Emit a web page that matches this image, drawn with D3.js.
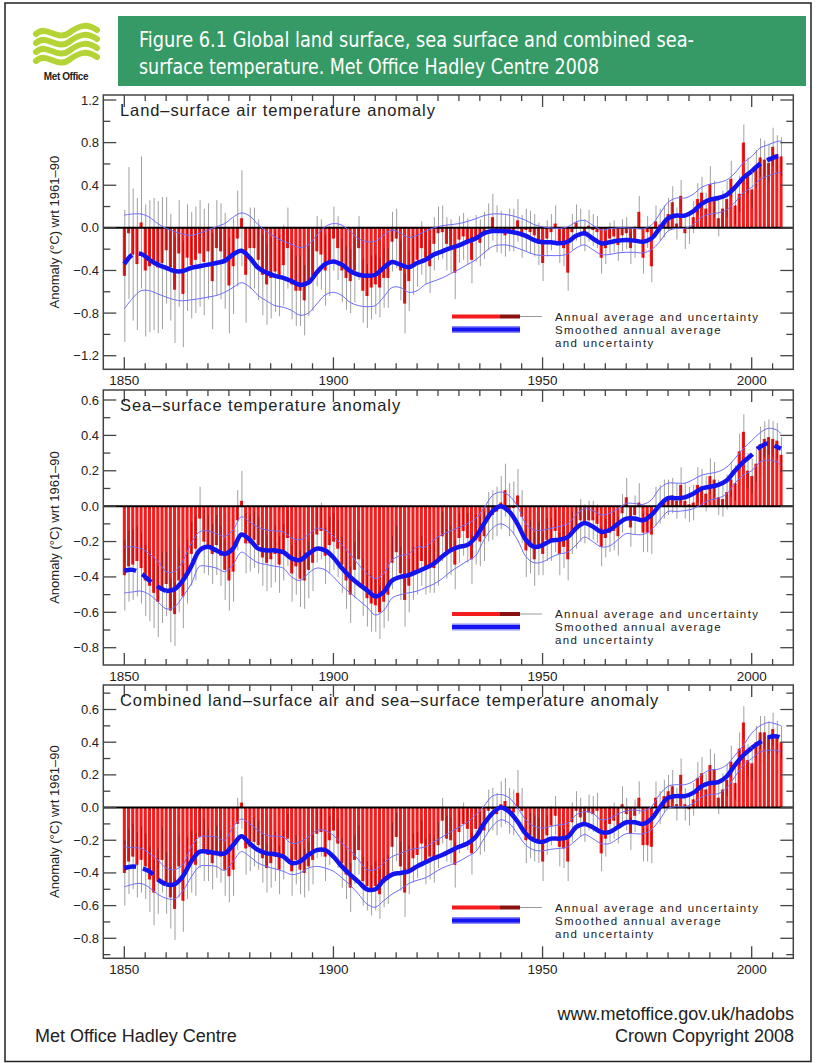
<!DOCTYPE html>
<html>
<head>
<meta charset="utf-8">
<script src="https://d3js.org/d3.v7.min.js"></script>
<style>
  body { margin: 0; background: #fff; }
  svg text { font-family: "Liberation Sans", Arial, Helvetica, sans-serif; }
</style>
</head>
<body>
<svg id="chart" width="818" height="1063"></svg>
<script>
// ---- data ----
var years = d3.range(1850, 2008);
var smoothYears = d3.range(1850, 2007, 2).concat([2007]);

var landAnnual = [
  -0.45,-0.05,-0.25,-0.34,0.05,-0.40,-0.36,-0.34,-0.37,-0.33,
  -0.21,-0.37,-0.58,-0.24,-0.62,-0.28,-0.35,-0.30,-0.24,-0.32,
  -0.22,-0.50,-0.19,-0.22,-0.31,-0.54,-0.36,-0.10,0.09,-0.44,
  -0.19,-0.19,-0.30,-0.44,-0.53,-0.47,-0.41,-0.45,-0.35,-0.19,
  -0.53,-0.59,-0.59,-0.68,-0.50,-0.45,-0.22,-0.25,-0.40,-0.31,
  -0.10,-0.19,-0.40,-0.47,-0.50,-0.40,-0.19,-0.59,-0.64,-0.56,
  -0.53,-0.56,-0.47,-0.47,-0.13,-0.10,-0.40,-0.71,-0.50,-0.35,
  -0.30,-0.19,-0.28,-0.36,-0.15,-0.05,-0.04,-0.15,-0.17,-0.42,
  -0.11,-0.08,-0.13,-0.30,-0.10,-0.14,-0.07,0.01,0.10,-0.01,
  -0.04,-0.07,-0.02,-0.02,0.07,-0.08,-0.02,-0.04,-0.07,-0.15,
  -0.33,-0.10,-0.04,0.04,-0.16,-0.19,-0.42,-0.04,0.05,0.01,
  -0.07,0.02,-0.02,-0.04,-0.28,-0.19,-0.10,-0.08,-0.16,-0.07,
  -0.05,-0.19,-0.13,0.15,-0.28,-0.04,-0.36,0.06,0.03,0.06,
  0.13,0.24,0.04,0.30,-0.05,0.00,0.10,0.27,0.33,0.18,
  0.41,0.27,0.09,0.18,0.27,0.46,0.21,0.32,0.80,0.49,
  0.36,0.55,0.66,0.64,0.61,0.76,0.69,0.67
];
var seaAnnual = [
  -0.39,-0.34,-0.33,-0.31,-0.35,-0.42,-0.45,-0.49,-0.54,-0.46,
  -0.44,-0.59,-0.61,-0.42,-0.51,-0.37,-0.27,-0.24,-0.07,-0.20,
  -0.22,-0.27,-0.22,-0.28,-0.36,-0.42,-0.37,-0.08,0.03,-0.21,
  -0.21,-0.19,-0.22,-0.29,-0.32,-0.30,-0.27,-0.33,-0.26,-0.18,
  -0.38,-0.34,-0.41,-0.42,-0.36,-0.32,-0.16,-0.14,-0.28,-0.22,
  -0.20,-0.24,-0.33,-0.42,-0.50,-0.36,-0.30,-0.46,-0.52,-0.55,
  -0.56,-0.60,-0.54,-0.50,-0.32,-0.26,-0.38,-0.53,-0.45,-0.38,
  -0.36,-0.31,-0.36,-0.35,-0.35,-0.31,-0.17,-0.27,-0.25,-0.33,
  -0.18,-0.14,-0.18,-0.30,-0.19,-0.20,-0.17,-0.06,-0.05,-0.03,
  0.02,0.09,-0.02,-0.01,0.06,-0.06,-0.25,-0.23,-0.30,-0.24,
  -0.27,-0.19,-0.19,-0.14,-0.27,-0.23,-0.30,-0.15,-0.12,-0.08,
  -0.10,-0.08,-0.08,-0.10,-0.23,-0.18,-0.15,-0.14,-0.17,-0.04,
  0.05,-0.12,-0.05,0.02,-0.15,-0.15,-0.16,0.00,0.01,0.04,
  0.05,0.06,0.03,0.12,0.03,0.01,0.02,0.12,0.11,0.07,
  0.17,0.15,0.05,0.04,0.08,0.15,0.13,0.31,0.42,0.20,
  0.17,0.24,0.35,0.38,0.39,0.38,0.37,0.29
];
var combAnnual = [
  -0.40,-0.33,-0.30,-0.35,-0.32,-0.36,-0.44,-0.52,-0.45,-0.32,
  -0.46,-0.55,-0.62,-0.36,-0.57,-0.37,-0.33,-0.35,-0.18,-0.26,
  -0.29,-0.34,-0.27,-0.30,-0.38,-0.42,-0.38,-0.10,0.03,-0.25,
  -0.24,-0.21,-0.23,-0.31,-0.37,-0.34,-0.30,-0.38,-0.29,-0.19,
  -0.39,-0.32,-0.38,-0.40,-0.36,-0.32,-0.16,-0.15,-0.30,-0.20,
  -0.14,-0.22,-0.34,-0.41,-0.49,-0.32,-0.26,-0.45,-0.48,-0.51,
  -0.48,-0.53,-0.46,-0.44,-0.24,-0.18,-0.36,-0.52,-0.38,-0.31,
  -0.29,-0.22,-0.33,-0.30,-0.32,-0.23,-0.08,-0.19,-0.20,-0.35,
  -0.15,-0.10,-0.13,-0.28,-0.13,-0.16,-0.14,-0.02,-0.01,-0.04,
  0.02,0.04,-0.02,-0.03,0.09,-0.02,-0.20,-0.17,-0.19,-0.20,
  -0.33,-0.17,-0.11,-0.05,-0.24,-0.25,-0.33,-0.09,-0.02,-0.06,
  -0.10,-0.03,-0.04,-0.02,-0.28,-0.19,-0.10,-0.08,-0.11,0.02,
  -0.04,-0.16,-0.05,0.06,-0.23,-0.23,-0.24,0.06,0.00,0.07,
  0.10,0.13,0.02,0.20,0.02,-0.01,0.05,0.18,0.21,0.11,
  0.26,0.23,0.06,0.11,0.17,0.28,0.15,0.36,0.52,0.29,
  0.27,0.40,0.46,0.46,0.43,0.48,0.43,0.40
];

// uncertainty half-width of the annual values, one per decade (1850s ... 2000s)
var landErr = [0.62,0.50,0.45,0.38,0.33,0.30,0.28,0.25,0.22,0.20,0.17,0.15,0.15,0.15,0.17,0.18];
var seaErr  = [0.20,0.18,0.17,0.16,0.16,0.16,0.15,0.14,0.14,0.15,0.12,0.11,0.11,0.10,0.10,0.10];
var combErr = [0.20,0.19,0.16,0.15,0.15,0.15,0.15,0.14,0.13,0.14,0.12,0.11,0.10,0.10,0.10,0.10];

// smoothed curves and their uncertainty, at smoothYears
var landSmooth = [
  -0.34,-0.25,-0.245,-0.30,-0.345,-0.375,-0.405,-0.405,-0.375,-0.36,
  -0.345,-0.33,-0.31,-0.25,-0.215,-0.28,-0.375,-0.42,-0.45,-0.47,
  -0.50,-0.535,-0.515,-0.42,-0.34,-0.315,-0.345,-0.405,-0.44,-0.45,
  -0.44,-0.375,-0.32,-0.345,-0.37,-0.33,-0.30,-0.25,-0.22,-0.19,
  -0.165,-0.13,-0.10,-0.05,-0.03,-0.03,-0.035,-0.05,-0.075,-0.115,
  -0.135,-0.135,-0.145,-0.13,-0.075,-0.05,-0.10,-0.145,-0.135,-0.12,
  -0.115,-0.12,-0.13,-0.10,-0.005,0.09,0.115,0.115,0.155,0.225,
  0.265,0.28,0.31,0.38,0.47,0.53,0.60,0.64,0.67,0.675
];
var landUpper = [
  0.12,0.13,0.13,0.10,0.04,-0.005,-0.035,-0.06,-0.07,-0.05,
  -0.02,0.01,0.04,0.10,0.14,0.11,0.03,-0.035,-0.085,-0.125,
  -0.155,-0.185,-0.16,-0.07,0.01,0.04,0.025,-0.035,-0.10,-0.13,
  -0.125,-0.07,-0.02,-0.05,-0.09,-0.07,-0.03,0.0,0.02,0.03,
  0.04,0.06,0.085,0.115,0.13,0.13,0.12,0.10,0.07,0.03,
  0.01,0.0,-0.005,0.01,0.055,0.07,0.025,-0.02,-0.01,0.0,
  0.0,-0.005,-0.01,0.025,0.13,0.24,0.28,0.28,0.315,0.38,
  0.41,0.425,0.45,0.515,0.61,0.67,0.75,0.78,0.81,0.815
];
var landLower = [
  -0.76,-0.66,-0.59,-0.59,-0.62,-0.65,-0.675,-0.685,-0.675,-0.665,
  -0.65,-0.635,-0.605,-0.56,-0.515,-0.555,-0.635,-0.685,-0.73,-0.745,
  -0.775,-0.82,-0.80,-0.715,-0.63,-0.605,-0.635,-0.70,-0.73,-0.74,
  -0.73,-0.65,-0.56,-0.56,-0.605,-0.59,-0.53,-0.50,-0.47,-0.43,
  -0.39,-0.345,-0.30,-0.235,-0.175,-0.16,-0.165,-0.19,-0.22,-0.25,
  -0.26,-0.26,-0.26,-0.245,-0.19,-0.16,-0.205,-0.25,-0.25,-0.235,
  -0.23,-0.23,-0.235,-0.205,-0.13,-0.03,-0.005,-0.005,0.03,0.10,
  0.13,0.14,0.17,0.24,0.33,0.38,0.455,0.49,0.515,0.52
];
var seaSmooth = [
  -0.365,-0.36,-0.38,-0.42,-0.455,-0.48,-0.47,-0.42,-0.34,-0.25,
  -0.23,-0.25,-0.27,-0.24,-0.16,-0.19,-0.24,-0.25,-0.25,-0.26,
  -0.295,-0.305,-0.27,-0.24,-0.25,-0.29,-0.35,-0.40,-0.44,-0.475,
  -0.51,-0.485,-0.42,-0.40,-0.39,-0.37,-0.35,-0.325,-0.285,-0.25,
  -0.23,-0.22,-0.175,-0.10,-0.03,0.0,-0.03,-0.10,-0.19,-0.23,
  -0.22,-0.195,-0.19,-0.175,-0.125,-0.095,-0.115,-0.145,-0.135,-0.10,
  -0.07,-0.07,-0.08,-0.05,0.005,0.045,0.045,0.05,0.07,0.10,
  0.11,0.12,0.145,0.20,0.25,0.29,0.335,0.355,0.335,0.325
];
var seaUpper = [
  -0.23,-0.23,-0.24,-0.27,-0.31,-0.37,-0.37,-0.31,-0.21,-0.145,
  -0.14,-0.155,-0.17,-0.135,-0.06,-0.09,-0.12,-0.135,-0.14,-0.145,
  -0.18,-0.19,-0.16,-0.125,-0.135,-0.17,-0.22,-0.27,-0.33,-0.38,
  -0.41,-0.38,-0.305,-0.28,-0.27,-0.23,-0.23,-0.19,-0.16,-0.14,
  -0.12,-0.10,-0.07,-0.01,0.06,0.08,0.06,0.0,-0.10,-0.135,
  -0.135,-0.125,-0.115,-0.10,-0.05,-0.015,-0.025,-0.05,-0.04,-0.015,
  0.015,0.015,0.01,0.035,0.10,0.13,0.13,0.13,0.15,0.175,
  0.185,0.195,0.22,0.27,0.325,0.37,0.415,0.44,0.43,0.41
];
var seaLower = [
  -0.49,-0.485,-0.48,-0.50,-0.54,-0.58,-0.57,-0.51,-0.44,-0.34,
  -0.34,-0.35,-0.37,-0.33,-0.26,-0.29,-0.32,-0.33,-0.34,-0.35,
  -0.40,-0.42,-0.38,-0.35,-0.36,-0.40,-0.45,-0.49,-0.53,-0.57,
  -0.615,-0.59,-0.52,-0.50,-0.49,-0.48,-0.46,-0.44,-0.41,-0.37,
  -0.34,-0.31,-0.28,-0.19,-0.125,-0.10,-0.125,-0.19,-0.285,-0.32,
  -0.315,-0.29,-0.27,-0.26,-0.22,-0.175,-0.20,-0.23,-0.225,-0.19,
  -0.155,-0.16,-0.16,-0.135,-0.08,-0.03,-0.03,-0.025,-0.015,0.01,
  0.035,0.045,0.07,0.13,0.175,0.20,0.25,0.26,0.25,0.23
];
var combSmooth = [
  -0.37,-0.36,-0.37,-0.39,-0.44,-0.47,-0.47,-0.42,-0.33,-0.27,
  -0.27,-0.28,-0.28,-0.23,-0.175,-0.22,-0.26,-0.28,-0.285,-0.30,
  -0.34,-0.33,-0.29,-0.26,-0.26,-0.30,-0.36,-0.41,-0.455,-0.50,
  -0.50,-0.445,-0.41,-0.40,-0.39,-0.36,-0.335,-0.31,-0.29,-0.265,
  -0.24,-0.22,-0.18,-0.10,-0.035,0.0,-0.025,-0.085,-0.16,-0.20,
  -0.21,-0.19,-0.19,-0.18,-0.12,-0.10,-0.12,-0.15,-0.15,-0.12,
  -0.09,-0.09,-0.10,-0.07,0.0,0.06,0.07,0.07,0.09,0.13,
  0.15,0.155,0.19,0.26,0.32,0.365,0.40,0.43,0.435,0.425
];
var combUpper = [
  -0.24,-0.245,-0.25,-0.28,-0.32,-0.37,-0.38,-0.35,-0.24,-0.18,
  -0.175,-0.18,-0.20,-0.12,-0.07,-0.10,-0.14,-0.17,-0.175,-0.18,
  -0.22,-0.21,-0.18,-0.14,-0.14,-0.17,-0.22,-0.26,-0.32,-0.38,
  -0.38,-0.34,-0.30,-0.28,-0.26,-0.25,-0.24,-0.21,-0.18,-0.15,
  -0.12,-0.09,-0.045,0.01,0.07,0.08,0.06,0.0,-0.075,-0.115,
  -0.125,-0.115,-0.105,-0.095,-0.045,-0.025,-0.035,-0.075,-0.065,-0.04,
  -0.02,-0.015,-0.02,0.005,0.08,0.13,0.14,0.14,0.16,0.20,
  0.23,0.235,0.26,0.32,0.38,0.455,0.50,0.52,0.51,0.50
];
var combLower = [
  -0.485,-0.47,-0.465,-0.49,-0.53,-0.555,-0.56,-0.51,-0.425,-0.36,
  -0.355,-0.36,-0.385,-0.33,-0.27,-0.30,-0.34,-0.36,-0.375,-0.39,
  -0.41,-0.40,-0.37,-0.36,-0.37,-0.39,-0.43,-0.475,-0.53,-0.59,
  -0.61,-0.57,-0.53,-0.50,-0.465,-0.445,-0.43,-0.40,-0.37,-0.35,
  -0.33,-0.30,-0.27,-0.19,-0.115,-0.075,-0.095,-0.16,-0.23,-0.26,
  -0.265,-0.255,-0.25,-0.24,-0.20,-0.165,-0.19,-0.22,-0.22,-0.19,
  -0.16,-0.16,-0.16,-0.135,-0.075,-0.005,0.005,0.005,0.025,0.065,
  0.08,0.085,0.12,0.19,0.26,0.30,0.34,0.35,0.35,0.34
];

// tick values
var xMajor = [1850, 1900, 1950, 2000];
var xMinor = d3.range(1850, 2010, 5);
var landMajor = [-1.2, -0.8, -0.4, 0, 0.4, 0.8, 1.2];
var landMinor = [-1.0, -0.6, -0.2, 0.2, 0.6, 1.0];
var seaMajor = [-0.8, -0.6, -0.4, -0.2, 0, 0.2, 0.4, 0.6];
var seaMinor = [-0.7, -0.5, -0.3, -0.1, 0.1, 0.3, 0.5];
var combMinor = [-0.9, -0.7, -0.5, -0.3, -0.1, 0.1, 0.3, 0.5, 0.7];

var legendText = ["Annual average and uncertainty", "Smoothed annual average", "and uncertainty"];

// ---- layout ----
var svg = d3.select("#chart");
var X0 = 103.3, X1 = 793.3;
var x = d3.scaleLinear().domain([1850, 2000]).range([124.3, 751.7]);
var fmt = d3.format(".1f");

var panels = [
  { title: "Land\u2013surface air temperature anomaly", annual: landAnnual, err: landErr,
    mid: landSmooth, hi: landUpper, lo: landLower, top: 95, bottom: 369.3,
    yd: [-1.2, 1.2], yr: [355.7, 100], major: landMajor, minor: landMinor,
    dash: [1856, 2000], legendY: 316.5 },
  { title: "Sea\u2013surface temperature anomaly", annual: seaAnnual, err: seaErr,
    mid: seaSmooth, hi: seaUpper, lo: seaLower, top: 390, bottom: 665,
    yd: [-0.8, 0.6], yr: [647.7, 400], major: seaMajor, minor: seaMinor,
    dash: [1860, 1998], legendY: 614 },
  { title: "Combined land\u2013surface air and sea\u2013surface temperature anomaly", annual: combAnnual, err: combErr,
    mid: combSmooth, hi: combUpper, lo: combLower, top: 685, bottom: 958.3,
    yd: [-0.8, 0.6], yr: [938.3, 709.5], major: seaMajor, minor: combMinor,
    dash: [1860, 2000], legendY: 907.5 }
];

// outer border
svg.append("rect").attr("x", 5).attr("y", 3).attr("width", 806).attr("height", 1058.5)
  .attr("fill", "none").attr("stroke", "#222").attr("stroke-width", 1.5);

// header
svg.append("rect").attr("x", 118).attr("y", 16).attr("width", 688).attr("height", 70).attr("fill", "#369a66");
var headFont = "'Liberation Sans Narrow','Arial Narrow','DejaVu Sans Condensed',sans-serif";
svg.append("text").attr("x", 139).attr("y", 47).attr("fill", "#fff").attr("font-size", 21)
  .style("font-family", headFont).attr("textLength", 555).attr("lengthAdjust", "spacingAndGlyphs")
  .text("Figure 6.1 Global land surface, sea surface and combined sea-");
svg.append("text").attr("x", 139).attr("y", 74).attr("fill", "#fff").attr("font-size", 21)
  .style("font-family", headFont).attr("textLength", 460).attr("lengthAdjust", "spacingAndGlyphs")
  .text("surface temperature. Met Office Hadley Centre 2008");

// logo
var logo = svg.append("g").attr("fill", "none").attr("stroke", "#b4d335").attr("stroke-width", 6).attr("stroke-linecap", "round");
[0, 1, 2, 3].forEach(function (i) {
  var o = i * 9;
  logo.append("path").attr("d", "M36," + (34 + o) + " C47," + (24 + o) + " 57," + (42 + o) + " 69," + (33 + o) +
    " S88," + (24 + o) + " 97," + (30 + o));
});
svg.append("text").attr("x", 66).attr("y", 80).attr("text-anchor", "middle").attr("font-size", 10)
  .attr("font-weight", "bold").attr("letter-spacing", -0.4).attr("fill", "#222").text("Met Office");

// footer
svg.append("text").attr("x", 35).attr("y", 1042).attr("font-size", 18).attr("fill", "#222").text("Met Office Hadley Centre");
svg.append("text").attr("x", 794).attr("y", 1020).attr("font-size", 18).attr("text-anchor", "end").attr("fill", "#222").text("www.metoffice.gov.uk/hadobs");
svg.append("text").attr("x", 794).attr("y", 1042).attr("font-size", 18).attr("text-anchor", "end").attr("fill", "#222").text("Crown Copyright 2008");

panels.forEach(function (p) {
  var y = d3.scaleLinear().domain(p.yd).range(p.yr);
  var g = svg.append("g");
  var e = function (d) { return p.err[Math.floor((d - 1850) / 10)]; };

  // uncertainty bars (grey), then the annual bars on top
  g.selectAll(".eb").data(years).join("line")
    .attr("x1", function (d) { return x(d) + 0.5; })
    .attr("x2", function (d) { return x(d) + 0.5; })
    .attr("y1", function (d, i) { return y(p.annual[i] - e(d)); })
    .attr("y2", function (d, i) { return y(p.annual[i] + e(d)); })
    .attr("stroke", "#a0a0a0").attr("stroke-width", 1);

  g.selectAll(".bar").data(years).join("rect")
    .attr("x", function (d) { return x(d) - 1.5; })
    .attr("width", 3.1)
    .attr("y", function (d, i) { return y(Math.max(0, p.annual[i])); })
    .attr("height", function (d, i) { return Math.abs(y(p.annual[i]) - y(0)); })
    .attr("fill", "#f41d1d");

  // part of the uncertainty bar that lies inside the red bar
  g.selectAll(".ebin").data(years).join("line")
    .attr("x1", function (d) { return x(d) + 0.5; })
    .attr("x2", function (d) { return x(d) + 0.5; })
    .attr("y1", function (d, i) { return y(p.annual[i]); })
    .attr("y2", function (d, i) {
      var v = p.annual[i];
      return y(v > 0 ? Math.max(0, v - e(d)) : Math.min(0, v + e(d)));
    })
    .attr("stroke", "#a31414").attr("stroke-width", 1);

  // zero line
  g.append("line").attr("x1", X0).attr("x2", X1).attr("y1", y(0)).attr("y2", y(0))
    .attr("stroke", "#000").attr("stroke-width", 2);

  // smoothed series and band
  var pts = function (arr) { return smoothYears.map(function (yr, i) { return [yr, arr[i]]; }); };
  var line = d3.line().x(function (d) { return x(d[0]); }).y(function (d) { return y(d[1]); })
    .curve(d3.curveCatmullRom);
  [p.hi, p.lo].forEach(function (arr) {
    g.append("path").attr("d", line(pts(arr))).attr("fill", "none")
      .attr("stroke", "#6b6bff").attr("stroke-width", 1);
  });
  var mid = pts(p.mid);
  var segs = [
    { d: mid.filter(function (d) { return d[0] <= p.dash[0]; }), dash: "12,7" },
    { d: mid.filter(function (d) { return d[0] >= p.dash[0] && d[0] <= p.dash[1]; }), dash: null },
    { d: mid.filter(function (d) { return d[0] >= p.dash[1]; }), dash: "12,7" }
  ];
  segs.forEach(function (s) {
    g.append("path").attr("d", line(s.d)).attr("fill", "none")
      .attr("stroke", "#1414f0").attr("stroke-width", 4.5)
      .attr("stroke-dasharray", s.dash);
  });

  // frame
  g.append("rect").attr("x", X0).attr("y", p.top).attr("width", X1 - X0).attr("height", p.bottom - p.top)
    .attr("fill", "none").attr("stroke", "#444").attr("stroke-width", 1.5);

  // y ticks (both sides)
  var yt = p.major.map(function (v) { return { v: v, len: 13 }; })
    .concat(p.minor.map(function (v) { return { v: v, len: 7 }; }));
  g.selectAll(".ytl").data(yt).join("line")
    .attr("x1", X0).attr("x2", function (d) { return X0 + d.len; })
    .attr("y1", function (d) { return y(d.v); }).attr("y2", function (d) { return y(d.v); })
    .attr("stroke", "#444").attr("stroke-width", 1.3);
  g.selectAll(".ytr").data(yt).join("line")
    .attr("x1", X1).attr("x2", function (d) { return X1 - d.len; })
    .attr("y1", function (d) { return y(d.v); }).attr("y2", function (d) { return y(d.v); })
    .attr("stroke", "#444").attr("stroke-width", 1.3);
  g.selectAll(".ylab").data(p.major).join("text")
    .attr("x", 99).attr("y", function (d) { return y(d) + 4.5; })
    .attr("text-anchor", "end").attr("font-size", 13).attr("fill", "#222")
    .text(function (d) { return fmt(d); });

  // x ticks (top and bottom)
  var xt = xMinor.map(function (v) { return { v: v, len: xMajor.indexOf(v) >= 0 ? 12 : 6 }; });
  g.selectAll(".xtb").data(xt).join("line")
    .attr("x1", function (d) { return x(d.v); }).attr("x2", function (d) { return x(d.v); })
    .attr("y1", p.bottom).attr("y2", function (d) { return p.bottom - d.len; })
    .attr("stroke", "#444").attr("stroke-width", 1.3);
  g.selectAll(".xtt").data(xt).join("line")
    .attr("x1", function (d) { return x(d.v); }).attr("x2", function (d) { return x(d.v); })
    .attr("y1", p.top).attr("y2", function (d) { return p.top + d.len; })
    .attr("stroke", "#444").attr("stroke-width", 1.3);
  g.selectAll(".xlab").data(xMajor).join("text")
    .attr("x", function (d) { return x(d); }).attr("y", p.bottom + 15.5)
    .attr("text-anchor", "middle").attr("font-size", 13.5).attr("fill", "#222")
    .text(function (d) { return d; });

  // axis title
  var cy = (p.top + p.bottom) / 2;
  g.append("text").attr("transform", "translate(59," + cy + ") rotate(-90)")
    .attr("text-anchor", "middle").attr("font-size", 13).attr("fill", "#222")
    .text("Anomaly (\u00b0C) wrt 1961\u201390");

  // panel title
  g.append("text").attr("x", 120).attr("y", p.top + 21).attr("font-size", 16.5)
    .attr("letter-spacing", 0.9).attr("fill", "#222").text(p.title);

  // legend
  var ly = p.legendY, step = 13;
  g.append("line").attr("x1", 452).attr("x2", 500).attr("y1", ly).attr("y2", ly).attr("stroke", "#f41d1d").attr("stroke-width", 4);
  g.append("line").attr("x1", 500).attr("x2", 520).attr("y1", ly).attr("y2", ly).attr("stroke", "#8a1010").attr("stroke-width", 4);
  g.append("line").attr("x1", 520).attr("x2", 542).attr("y1", ly).attr("y2", ly).attr("stroke", "#9a9a9a").attr("stroke-width", 1);
  g.append("line").attr("x1", 452).attr("x2", 520).attr("y1", ly + step - 3).attr("y2", ly + step - 3).attr("stroke", "#8b8bff").attr("stroke-width", 1);
  g.append("line").attr("x1", 452).attr("x2", 520).attr("y1", ly + step + 3).attr("y2", ly + step + 3).attr("stroke", "#8b8bff").attr("stroke-width", 1);
  g.append("line").attr("x1", 452).attr("x2", 520).attr("y1", ly + step).attr("y2", ly + step).attr("stroke", "#1414f0").attr("stroke-width", 4.5);
  legendText.forEach(function (t, i) {
    g.append("text").attr("x", 555).attr("y", ly + 4.2 + i * step).attr("font-size", 11.5)
      .attr("letter-spacing", 1.4).attr("fill", "#222").text(t);
  });
});
</script>
</body>
</html>
